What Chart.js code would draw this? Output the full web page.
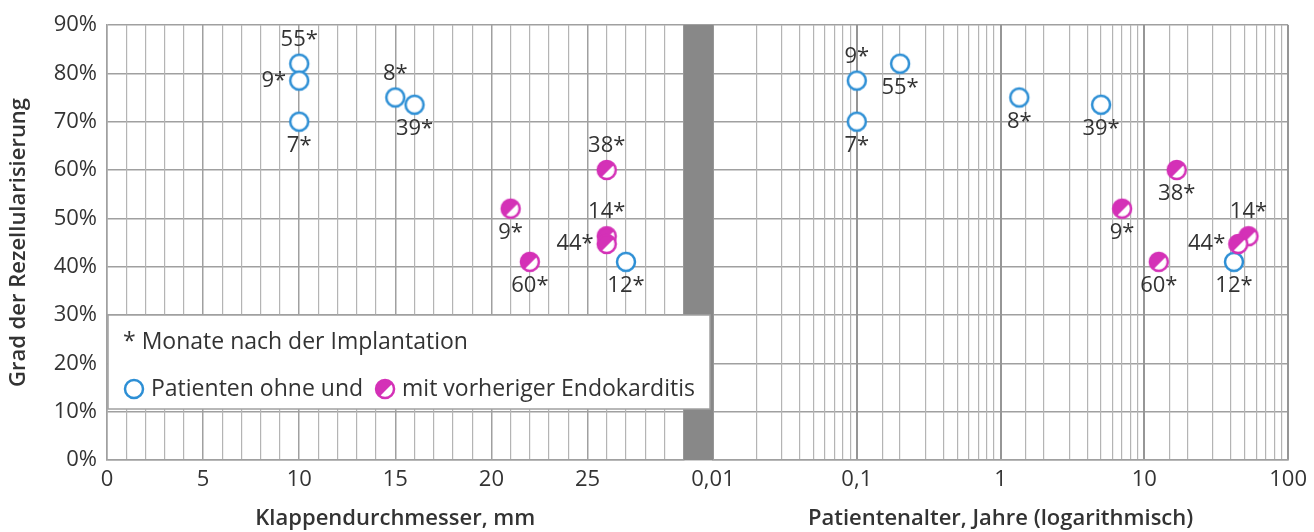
<!DOCTYPE html>
<html lang="de">
<head>
<meta charset="utf-8">
<title>Grad der Rezellularisierung</title>
<script src="https://cdn.jsdelivr.net/npm/chart.js@4.4.1/dist/chart.umd.min.js"></script>
<style>
  html, body { margin: 0; padding: 0; background: #fff; }
  #chart { display: block; }
</style>
</head>
<body>
<canvas id="chart" width="1314" height="532"></canvas>
<script>
// Patienten ohne vorherige Endokarditis
const monateOhne = [55, 9, 7, 8, 39, 12];
const durchmesserOhne = [10, 10, 10, 15, 16, 27];
const alterOhne = [0.2, 0.1, 0.1, 1.35, 5, 42];
const rezOhne = [82, 78.5, 70, 75, 73.5, 41];

// Patienten mit vorheriger Endokarditis
const monateMit = [9, 60, 38, 14, 44];
const durchmesserMit = [21, 22, 26, 26, 26];
const alterMit = [7, 12.6, 16.8, 53, 45];
const rezMit = [52, 41, 60, 46.3, 44.7];

// where the month label sits next to each point
const lageOhneLinks = ['top', 'left', 'bottom', 'top', 'bottom', 'bottom'];
const lageOhneRechts = ['bottom', 'top', 'bottom', 'bottom', 'bottom', 'bottom'];
const lageMitLinks = ['bottom', 'bottom', 'top', 'top', 'left'];
const lageMitRechts = ['bottom', 'bottom', 'bottom', 'top', 'left'];

// tick labels
const mmLabels = [0, 5, 10, 15, 20, 25];
const alterLabels = [0.01, 0.1, 1, 10, 100];

const BLAU = '#2d8fd5';
const MAGENTA = '#d431b7';
const TEXT = '#333333';
const GRID = 'rgb(160,160,160)';
const GRID_HELL = 'rgb(180,180,180)';
const SCHRIFT = '"Open Sans", "Noto Sans", sans-serif';

Chart.defaults.font.family = SCHRIFT;
Chart.defaults.color = TEXT;

// draws one marker, open circle or half filled circle
function drawMarker(ctx, x, y, kind) {
    const r = 9;
    ctx.save();
    ctx.lineWidth = 2.5;
    ctx.beginPath();
    ctx.arc(x, y, r, 0, Math.PI * 2);
    ctx.fillStyle = '#fff';
    ctx.fill();
    if (kind === 'mit') {
        ctx.save();
        ctx.clip();
        ctx.beginPath();
        ctx.moveTo(x - r - 3, y + r + 5);
        ctx.lineTo(x + r + 5, y - r - 3);
        ctx.lineTo(x - r - 3, y - r - 3);
        ctx.closePath();
        ctx.fillStyle = MAGENTA;
        ctx.fill();
        ctx.restore();
    }
    ctx.beginPath();
    ctx.arc(x, y, r, 0, Math.PI * 2);
    ctx.strokeStyle = kind === 'mit' ? MAGENTA : BLAU;
    ctx.stroke();
    ctx.restore();
}

function markerBild(kind) {
    const c = document.createElement('canvas');
    c.width = 26;
    c.height = 26;
    drawMarker(c.getContext('2d'), 13, 13, kind);
    return c;
}

const bildOhne = markerBild('ohne');
const bildMit = markerBild('mit');

const punkte = (xs, ys) => xs.map((x, i) => ({ x: x, y: ys[i] }));

const istDekade = v => Math.abs(Math.log10(v) - Math.round(Math.log10(v))) < 1e-6;
const deutsch = v => String(Number(v.toPrecision(6))).replace('.', ',');

// month labels next to the points
const monatsLabels = {
    id: 'monatsLabels',
    afterDatasetsDraw(chart) {
        const ctx = chart.ctx;
        ctx.save();
        ctx.font = '22px ' + SCHRIFT;
        ctx.fillStyle = TEXT;
        ctx.textBaseline = 'middle';
        chart.data.datasets.forEach((ds, i) => {
            chart.getDatasetMeta(i).data.forEach((pt, j) => {
                const text = ds.monate[j] + '*';
                let x = pt.x, y = pt.y;
                if (ds.lage[j] === 'top') {
                    ctx.textAlign = 'center';
                    y -= 24;
                } else if (ds.lage[j] === 'bottom') {
                    ctx.textAlign = 'center';
                    y += 24;
                } else {
                    ctx.textAlign = 'right';
                    x -= 13;
                }
                ctx.fillText(text, x, y);
            });
        });
        ctx.restore();
    }
};

// grey bar between the two x axes
const luecke = {
    id: 'luecke',
    beforeDatasetsDraw(chart) {
        const { ctx, chartArea, scales } = chart;
        const gap = scales.xgap;
        ctx.save();
        ctx.fillStyle = '#888888';
        ctx.fillRect(gap.left, chartArea.top, gap.right - gap.left, chartArea.bottom - chartArea.top);
        ctx.restore();
    }
};

// legend box inside the left panel
const legende = {
    id: 'legende',
    afterDatasetsDraw(chart) {
        const { ctx, chartArea, scales } = chart;
        const left = chartArea.left + 1;
        const right = scales.xgap.right - 3;
        const top = scales.y.getPixelForValue(30);
        const bottom = top + 94;
        ctx.save();
        ctx.fillStyle = '#fff';
        ctx.fillRect(left, top, right - left, bottom - top);
        ctx.strokeStyle = GRID;
        ctx.lineWidth = 1.5;
        ctx.strokeRect(left, top, right - left, bottom - top);

        ctx.font = '23px ' + SCHRIFT;
        ctx.fillStyle = TEXT;
        ctx.textAlign = 'left';
        ctx.textBaseline = 'middle';
        ctx.fillText('* Monate nach der Implantation', left + 15, top + 27);

        const y2 = top + 74;
        let x = left + 26;
        drawMarker(ctx, x, y2, 'ohne');
        x += 17;
        ctx.fillStyle = TEXT;
        const t1 = 'Patienten ohne und';
        ctx.fillText(t1, x, y2);
        x += ctx.measureText(t1).width + 22;
        drawMarker(ctx, x, y2, 'mit');
        x += 17;
        ctx.fillStyle = TEXT;
        ctx.fillText('mit vorheriger Endokarditis', x, y2);
        ctx.restore();
    }
};

const titelFont = { size: 22, weight: 600 };
const tickFont = { size: 22 };

new Chart(document.getElementById('chart'), {
    type: 'scatter',
    data: {
        datasets: [
            {
                label: 'mit vorheriger Endokarditis (Durchmesser)',
                data: punkte(durchmesserMit, rezMit),
                xAxisID: 'xmm',
                pointStyle: bildMit,
                monate: monateMit,
                lage: lageMitLinks,
                order: 1
            },
            {
                label: 'ohne Endokarditis (Durchmesser)',
                data: punkte(durchmesserOhne, rezOhne),
                xAxisID: 'xmm',
                pointStyle: bildOhne,
                monate: monateOhne,
                lage: lageOhneLinks,
                order: 2
            },
            {
                label: 'mit vorheriger Endokarditis (Alter)',
                data: punkte(alterMit, rezMit),
                xAxisID: 'xalter',
                pointStyle: bildMit,
                monate: monateMit,
                lage: lageMitRechts,
                order: 1
            },
            {
                label: 'ohne Endokarditis (Alter)',
                data: punkte(alterOhne, rezOhne),
                xAxisID: 'xalter',
                pointStyle: bildOhne,
                monate: monateOhne,
                lage: lageOhneRechts,
                order: 2
            }
        ]
    },
    options: {
        responsive: false,
        animation: false,
        events: [],
        layout: { padding: { top: 25, right: 21, left: 0, bottom: 0 } },
        plugins: {
            legend: { display: false },
            tooltip: { enabled: false }
        },
        scales: {
            y: {
                min: 0,
                max: 90,
                afterFit: s => { s.width = 107; },
                ticks: { stepSize: 10, padding: 10, font: tickFont, callback: v => v + '%' },
                grid: { color: GRID, lineWidth: 1.5, drawTicks: false },
                border: { color: GRID, width: 1.5 },
                title: { display: true, text: 'Grad der Rezellularisierung', font: titelFont, padding: { top: 6, bottom: 0 } }
            },
            xmm: {
                type: 'linear',
                position: 'bottom',
                stack: 'unten',
                stackWeight: 579,
                min: 0,
                max: 30,
                afterFit: s => { s.height = 72; },
                ticks: {
                    stepSize: 1,
                    autoSkip: false,
                    maxRotation: 0,
                    padding: 7,
                    font: tickFont,
                    callback: v => mmLabels.includes(v) ? String(v) : ''
                },
                grid: {
                    drawTicks: false,
                    color: c => (c.tick && c.tick.value % 5 === 0) ? GRID : GRID_HELL,
                    lineWidth: c => (c.tick && c.tick.value % 5 === 0) ? 1.5 : 1.2
                },
                border: { color: GRID, width: 1.5 },
                title: { display: true, text: 'Klappendurchmesser, mm', font: titelFont, padding: 0 }
            },
            xgap: {
                type: 'linear',
                position: 'bottom',
                stack: 'unten',
                stackWeight: 29.5,
                min: 0,
                max: 1,
                afterFit: s => { s.height = 72; },
                ticks: { display: false },
                grid: { display: false },
                border: { display: false }
            },
            xalter: {
                type: 'logarithmic',
                position: 'bottom',
                stack: 'unten',
                stackWeight: 577.5,
                min: 0.01,
                max: 100,
                afterFit: s => { s.height = 72; },
                ticks: {
                    autoSkip: false,
                    maxRotation: 0,
                    padding: 7,
                    font: tickFont,
                    callback: v => (istDekade(v) && alterLabels.some(a => Math.abs(a - v) < 1e-9)) ? deutsch(v) : ''
                },
                grid: {
                    drawTicks: false,
                    color: c => (c.tick && istDekade(c.tick.value)) ? 'rgb(150,150,150)' : GRID_HELL,
                    lineWidth: c => (c.tick && istDekade(c.tick.value)) ? 2 : 1.2
                },
                border: { color: GRID, width: 1.5 },
                title: { display: true, text: 'Patientenalter, Jahre (logarithmisch)', font: titelFont, padding: 0 }
            }
        }
    },
    plugins: [luecke, monatsLabels, legende]
});
</script>
</body>
</html>
